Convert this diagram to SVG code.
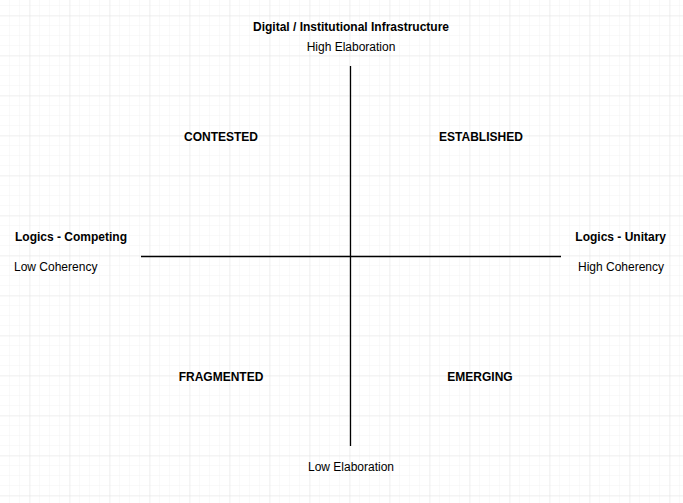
<svg xmlns="http://www.w3.org/2000/svg" width="683" height="503" viewBox="0 0 683 503">
  <style>
    .lbl { font-family: "Liberation Sans", Arial, sans-serif; font-size: 12px; fill: #000; }
    .b { font-weight: bold; }
    .axis { stroke: #000; stroke-width: 1.3; fill: none; }
  </style>
  <defs>
    <pattern id="minor" width="10" height="10" patternUnits="userSpaceOnUse" x="0" y="6">
      <path d="M10 0V10M0 10H10" stroke="#f3f3f3" stroke-width="1" fill="none"/>
    </pattern>
    <pattern id="major" width="40" height="40" patternUnits="userSpaceOnUse" x="-9.5" y="-23.5">
      <path d="M40 0V40M0 40H40" stroke="#e4e4e4" stroke-width="1" fill="none"/>
    </pattern>
  </defs>
  <rect width="683" height="503" fill="#fff"/>
  <rect width="683" height="503" fill="url(#minor)"/>
  <rect width="683" height="503" fill="url(#major)"/>

  <!-- axes -->
  <g id="connectors">
    <line class="axis" x1="350.5" y1="66" x2="350.5" y2="446"/>
    <line class="axis" x1="141" y1="256.5" x2="561" y2="256.5"/>
  </g>

  <g id="top-label">
    <text class="lbl b" x="351" y="31" text-anchor="middle">Digital / Institutional Infrastructure</text>
    <text class="lbl" x="351" y="51" text-anchor="middle">High Elaboration</text>
  </g>
  <g id="bottom-label">
    <text class="lbl" x="351" y="471" text-anchor="middle">Low Elaboration</text>
  </g>
  <g id="left-label">
    <text class="lbl b" x="15" y="241">Logics - Competing</text>
    <text class="lbl" x="14" y="271">Low Coherency</text>
  </g>
  <g id="right-label">
    <text class="lbl b" x="666" y="241" text-anchor="end">Logics - Unitary</text>
    <text class="lbl" x="621" y="271" text-anchor="middle">High Coherency</text>
  </g>
  <g id="contested">
    <text class="lbl b" x="221" y="141" text-anchor="middle">CONTESTED</text>
  </g>
  <g id="established">
    <text class="lbl b" x="481" y="141" text-anchor="middle">ESTABLISHED</text>
  </g>
  <g id="fragmented">
    <text class="lbl b" x="221" y="381" text-anchor="middle">FRAGMENTED</text>
  </g>
  <g id="emerging">
    <text class="lbl b" x="480" y="381" text-anchor="middle">EMERGING</text>
  </g>
</svg>
